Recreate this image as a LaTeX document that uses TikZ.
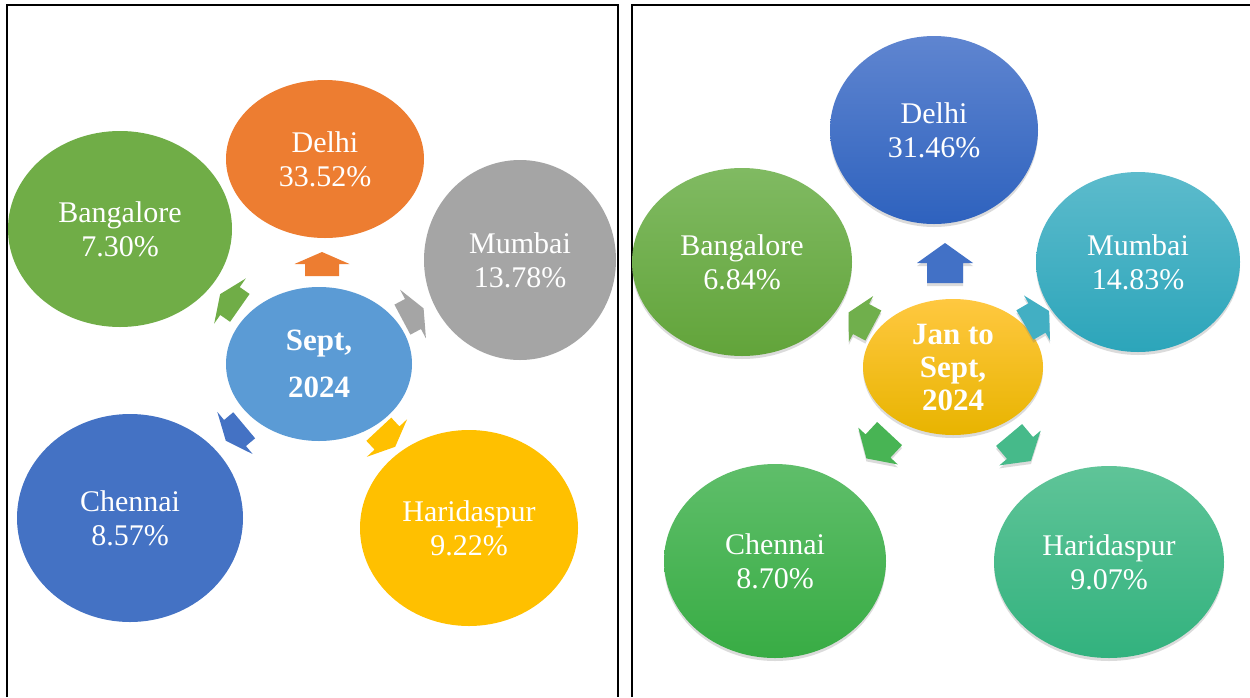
\documentclass[tikz,border=0pt]{standalone}
\usepackage{fontspec}
\setmainfont{Liberation Serif}
\usetikzlibrary{shapes.geometric,shadows}
\definecolor{cOrange}{RGB}{237,125,49}
\definecolor{cGreen}{RGB}{112,173,71}
\definecolor{cGray}{RGB}{165,165,165}
\definecolor{cSky}{RGB}{91,155,213}
\definecolor{cBlue}{RGB}{68,114,196}
\definecolor{cGold}{RGB}{255,192,0}
\definecolor{rBlueT}{RGB}{95,133,208}
\definecolor{rBlueB}{RGB}{46,98,190}
\definecolor{rBlueM}{RGB}{66,113,198}
\definecolor{rLimeT}{RGB}{128,186,98}
\definecolor{rLimeB}{RGB}{98,164,58}
\definecolor{rLimeM}{RGB}{112,175,76}
\definecolor{rTealT}{RGB}{92,187,204}
\definecolor{rTealB}{RGB}{44,165,186}
\definecolor{rTealM}{RGB}{66,175,195}
\definecolor{rGoldT}{RGB}{255,200,64}
\definecolor{rGoldB}{RGB}{232,180,0}
\definecolor{rGrnT}{RGB}{95,190,106}
\definecolor{rGrnB}{RGB}{56,172,68}
\definecolor{rGrnM}{RGB}{72,180,84}
\definecolor{rMintT}{RGB}{95,196,152}
\definecolor{rMintB}{RGB}{50,178,126}
\definecolor{rMintM}{RGB}{70,186,138}
\newcommand\blkarrow[6]{\path[#6,shift={#1},rotate=#2] (#3,0) -- (0,-#4) -- (0,-#5) -- (-#3,-#5) -- (-#3,#5) -- (0,#5) -- (0,#4) -- cycle;}
\begin{document}
\begin{tikzpicture}[x=1pt,y=-1pt,
  city/.style={ellipse, inner sep=0pt, outer sep=0pt, text=white, align=center,
    font=\fontsize{30}{34}\selectfont},
  hubA/.style={city, font=\fontsize{31}{47}\selectfont\bfseries},
  hubB/.style={city, inner ysep=-30pt, font=\fontsize{31}{33}\selectfont\bfseries},
  soft/.style={drop shadow={opacity=0.28, shadow xshift=0pt, shadow yshift=-3pt}},
  panel/.style={line width=2pt, black}
]
\useasboundingbox (0,0) rectangle (1250,697);
\fill[white] (0,0) rectangle (1250,697);
% panel frames
\draw[panel] (6.5,697) -- (6.5,4.5) -- (617.5,4.5) -- (617.5,697);
\draw[panel] (631.5,697) -- (631.5,4.5) -- (1252,4.5);
% left panel
\node[city, fill=cOrange, minimum width=198pt, minimum height=158pt] (delhiA) at (325,159) {Delhi\\33.52\%};
\node[city, fill=cGreen, minimum width=224pt, minimum height=196pt] (bangA) at (120,229) {Bangalore\\7.30\%};
\node[city, fill=cGray, minimum width=192pt, minimum height=200pt] (mumA) at (520,260) {Mumbai\\13.78\%};
\node[city, fill=cBlue, minimum width=226pt, minimum height=208pt] (chenA) at (130,518) {Chennai\\8.57\%};
\node[city, fill=cGold, minimum width=218pt, minimum height=196pt] (hariA) at (469,528) {Haridaspur\\9.22\%};
\node[hubA, fill=cSky, minimum width=186pt, minimum height=154pt] (hubA) at (319,364) {Sept,\\2024};
\blkarrow{(322,264)}{90}{12}{27.5}{17}{fill=cOrange}
\blkarrow{(413,314)}{28}{12}{27.5}{17}{fill=cGray}
\blkarrow{(387,438)}{-47}{12}{27.5}{17}{fill=cGold}
\blkarrow{(235,433)}{-140}{12}{27.5}{17}{fill=cBlue}
\blkarrow{(230,301)}{145}{12}{27.5}{17}{fill=cGreen}
% right panel
\node[city, soft, top color=rBlueT, bottom color=rBlueB, minimum width=208pt, minimum height=188pt] (delhiB) at (934,130) {Delhi\\31.46\%};
\node[city, soft, top color=rLimeT, bottom color=rLimeB, minimum width=220pt, minimum height=188pt] (bangB) at (742,262) {Bangalore\\6.84\%};
\node[city, soft, top color=rTealT, bottom color=rTealB, minimum width=204pt, minimum height=180pt] (mumB) at (1138,262) {Mumbai\\14.83\%};
\node[city, soft, top color=rGrnT, bottom color=rGrnB, minimum width=222pt, minimum height=194pt] (chenB) at (775,561) {Chennai\\8.70\%};
\node[city, soft, top color=rMintT, bottom color=rMintB, minimum width=230pt, minimum height=192pt] (hariB) at (1109,562) {Haridaspur\\9.07\%};
\node[hubB, soft, top color=rGoldT, bottom color=rGoldB, minimum width=180pt, minimum height=136pt] (hubB) at (953,367) {Jan to\\Sept,\\2024};
\blkarrow{(945,263)}{90}{20}{28}{18}{fill=rBlueM, soft}
\blkarrow{(1037,318)}{30}{14}{26}{17}{fill=rTealM, soft}
\blkarrow{(1020,448)}{-50}{17}{27}{17}{fill=rMintM, soft}
\blkarrow{(878,446)}{-133}{17}{27}{17}{fill=rGrnM, soft}
\blkarrow{(861,319)}{152}{14}{26}{17}{fill=rLimeM, soft}
\end{tikzpicture}
\end{document}
